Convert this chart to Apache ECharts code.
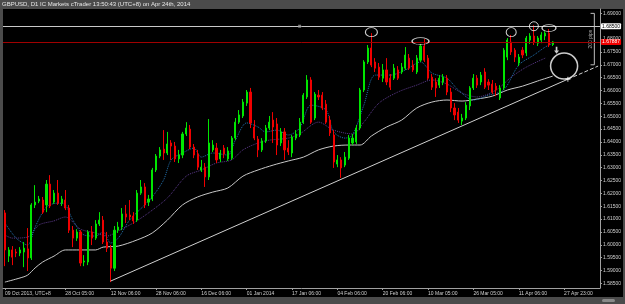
<!DOCTYPE html>
<html><head><meta charset="utf-8">
<script src="https://cdn.jsdelivr.net/npm/echarts@6/dist/echarts.min.js"></script>
<style>html,body{margin:0;padding:0;background:#4b4b4b;overflow:hidden;} #c{width:625px;height:304px;}</style>
</head><body><div id="c"></div>
<script>
const titleText = 'GBPUSD, D1 IC Markets cTrader 13:50:43 (UTC+8) on Apr 24th, 2014';
const slotCount = 158;
const opens = [1.6124,1.5956,1.5980,1.5972,1.5968,1.5972,1.5984,1.5949,1.6155,1.6170,1.6174,1.6155,1.6236,1.6166,1.6201,1.6162,1.6174,1.6143,1.6057,1.6026,1.6050,1.5933,1.5933,1.6050,1.6026,1.6081,1.6096,1.6011,1.5987,1.5909,1.6057,1.6069,1.6120,1.6116,1.6112,1.6096,1.6201,1.6225,1.6166,1.6178,1.6291,1.6345,1.6372,1.6357,1.6396,1.6384,1.6334,1.6349,1.6431,1.6450,1.6380,1.6353,1.6291,1.6302,1.6264,1.6369,1.6376,1.6334,1.6376,1.6334,1.6337,1.6415,1.6477,1.6501,1.6551,1.6594,1.6458,1.6411,1.6369,1.6404,1.6454,1.6485,1.6470,1.6396,1.6439,1.6376,1.6357,1.6415,1.6427,1.6477,1.6575,1.6641,1.6493,1.6582,1.6582,1.6547,1.6485,1.6427,1.6314,1.6330,1.6310,1.6337,1.6396,1.6400,1.6454,1.6602,1.6711,1.6765,1.6711,1.6691,1.6648,1.6680,1.6648,1.6648,1.6680,1.6672,1.6687,1.6726,1.6699,1.6672,1.6718,1.6773,1.6726,1.6652,1.6633,1.6621,1.6633,1.6648,1.6594,1.6532,1.6516,1.6481,1.6493,1.6540,1.6610,1.6648,1.6633,1.6672,1.6633,1.6625,1.6617,1.6571,1.6610,1.6730,1.6788,1.6757,1.6707,1.6757,1.6746,1.6796,1.6812,1.6784,1.6796,1.6812,1.6823,1.6779];
const closes = [1.5980,1.5980,1.5952,1.5968,1.5980,1.5987,1.5949,1.6155,1.6166,1.6178,1.6127,1.6236,1.6151,1.6201,1.6162,1.6178,1.6143,1.6057,1.6026,1.6050,1.5929,1.5937,1.6050,1.6026,1.6081,1.6096,1.6011,1.5987,1.5909,1.6057,1.6069,1.6120,1.6108,1.6108,1.6093,1.6201,1.6225,1.6155,1.6178,1.6291,1.6345,1.6369,1.6357,1.6392,1.6384,1.6334,1.6349,1.6431,1.6454,1.6380,1.6349,1.6302,1.6302,1.6264,1.6396,1.6388,1.6330,1.6357,1.6353,1.6365,1.6415,1.6477,1.6505,1.6555,1.6594,1.6474,1.6415,1.6369,1.6404,1.6454,1.6477,1.6458,1.6388,1.6439,1.6369,1.6361,1.6419,1.6431,1.6477,1.6582,1.6641,1.6477,1.6586,1.6575,1.6532,1.6477,1.6435,1.6322,1.6330,1.6299,1.6341,1.6415,1.6415,1.6454,1.6602,1.6711,1.6765,1.6699,1.6687,1.6652,1.6680,1.6633,1.6613,1.6687,1.6648,1.6691,1.6738,1.6687,1.6680,1.6726,1.6773,1.6718,1.6648,1.6613,1.6610,1.6648,1.6652,1.6594,1.6532,1.6505,1.6485,1.6493,1.6543,1.6610,1.6648,1.6621,1.6660,1.6613,1.6621,1.6594,1.6602,1.6610,1.6757,1.6796,1.6750,1.6730,1.6730,1.6738,1.6804,1.6812,1.6788,1.6804,1.6816,1.6823,1.6777,1.6789];
const highs = [1.6135,1.5991,1.5995,1.5984,1.5991,1.6011,1.6065,1.6162,1.6232,1.6190,1.6186,1.6252,1.6271,1.6213,1.6252,1.6190,1.6213,1.6155,1.6073,1.6061,1.6057,1.5960,1.6057,1.6073,1.6096,1.6127,1.6112,1.6050,1.5999,1.6073,1.6089,1.6143,1.6155,1.6174,1.6127,1.6213,1.6252,1.6240,1.6194,1.6299,1.6353,1.6380,1.6446,1.6439,1.6407,1.6400,1.6369,1.6439,1.6477,1.6466,1.6392,1.6369,1.6330,1.6318,1.6489,1.6407,1.6396,1.6369,1.6388,1.6380,1.6423,1.6493,1.6524,1.6567,1.6602,1.6610,1.6485,1.6423,1.6415,1.6466,1.6501,1.6516,1.6493,1.6454,1.6454,1.6407,1.6427,1.6446,1.6493,1.6590,1.6660,1.6652,1.6594,1.6602,1.6594,1.6563,1.6501,1.6446,1.6349,1.6341,1.6361,1.6427,1.6431,1.6466,1.6610,1.6718,1.6777,1.6823,1.6726,1.6707,1.6703,1.6726,1.6664,1.6703,1.6695,1.6707,1.6769,1.6742,1.6718,1.6738,1.6781,1.6800,1.6738,1.6664,1.6648,1.6660,1.6664,1.6660,1.6610,1.6551,1.6532,1.6509,1.6555,1.6617,1.6664,1.6660,1.6672,1.6687,1.6644,1.6641,1.6629,1.6621,1.6765,1.6804,1.6816,1.6765,1.6742,1.6769,1.6812,1.6823,1.6854,1.6812,1.6827,1.6831,1.6839,1.6792];
const lows = [1.5917,1.5933,1.5921,1.5952,1.5956,1.5913,1.5898,1.5941,1.6143,1.6162,1.6120,1.6127,1.6143,1.6159,1.6155,1.6151,1.6135,1.6046,1.5991,1.6015,1.5917,1.5917,1.5921,1.5999,1.6019,1.6073,1.6003,1.5972,1.5855,1.5898,1.6046,1.6057,1.6085,1.6096,1.6081,1.6089,1.6194,1.6143,1.6151,1.6170,1.6283,1.6337,1.6330,1.6349,1.6330,1.6322,1.6318,1.6337,1.6423,1.6372,1.6337,1.6291,1.6283,1.6225,1.6252,1.6361,1.6318,1.6322,1.6337,1.6326,1.6330,1.6407,1.6470,1.6493,1.6540,1.6454,1.6407,1.6341,1.6361,1.6396,1.6446,1.6396,1.6349,1.6384,1.6330,1.6349,1.6341,1.6407,1.6419,1.6470,1.6567,1.6470,1.6485,1.6563,1.6524,1.6470,1.6423,1.6299,1.6302,1.6260,1.6302,1.6330,1.6388,1.6392,1.6446,1.6594,1.6703,1.6691,1.6672,1.6641,1.6633,1.6621,1.6602,1.6641,1.6641,1.6664,1.6680,1.6680,1.6672,1.6664,1.6711,1.6711,1.6641,1.6602,1.6575,1.6610,1.6621,1.6582,1.6516,1.6485,1.6474,1.6466,1.6485,1.6524,1.6602,1.6610,1.6621,1.6606,1.6602,1.6586,1.6578,1.6563,1.6602,1.6718,1.6738,1.6711,1.6695,1.6726,1.6734,1.6781,1.6777,1.6773,1.6784,1.6796,1.6769,1.6773];
const tickSlots = [0,16,28,40,52,64,76,88,100,112,124,136,148];
const tickLabels = ['09 Oct 2013, UTC+8','28 Oct 05:00','12 Nov 06:00','28 Nov 06:00','16 Dec 06:00','01 Jan 2014','17 Jan 06:00','04 Feb 06:00','20 Feb 06:00','10 Mar 05:00','26 Mar 05:00','11 Apr 06:00','27 Apr 23:00'];
const priceTicks = [1.585,1.590,1.595,1.600,1.605,1.610,1.615,1.620,1.625,1.630,1.635,1.640,1.645,1.650,1.655,1.660,1.665,1.670,1.675,1.680,1.685,1.690];
const slowMA = [[0,1.5855],[4,1.5871],[6,1.5882],[8,1.5910],[10,1.5933],[13,1.5956],[16,1.5980],[20,1.5980],[24,1.5980],[26,1.5991],[30,1.5995],[35,1.6019],[39,1.6046],[43,1.6096],[47,1.6155],[51,1.6186],[55,1.6205],[59,1.6221],[63,1.6267],[67,1.6291],[71,1.6310],[75,1.6326],[79,1.6341],[83,1.6369],[87,1.6384],[91,1.6388],[94,1.6388],[97,1.6423],[101,1.6458],[105,1.6485],[109,1.6532],[113,1.6555],[117,1.6563],[121,1.6559],[125,1.6567],[129,1.6578],[133,1.6602],[137,1.6617],[141,1.6637],[145,1.6656]];
const fastMA = [[0,1.6085],[3,1.6026],[6,1.5999],[8,1.6069],[11,1.6147],[14,1.6162],[16,1.6155],[18,1.6096],[21,1.6038],[24,1.6034],[26,1.6050],[28,1.6007],[30,1.6026],[33,1.6096],[37,1.6155],[39,1.6186],[42,1.6252],[44,1.6330],[47,1.6357],[50,1.6376],[52,1.6341],[55,1.6357],[59,1.6349],[61,1.6407],[64,1.6474],[67,1.6458],[69,1.6439],[72,1.6446],[75,1.6427],[78,1.6454],[81,1.6543],[85,1.6524],[87,1.6439],[90,1.6415],[92,1.6427],[95,1.6543],[98,1.6660],[102,1.6660],[106,1.6680],[110,1.6711],[113,1.6668],[117,1.6648],[120,1.6602],[124,1.6563],[128,1.6582],[132,1.6602],[136,1.6699],[140,1.6738],[143,1.6769],[145,1.6784]];
const midMA = [[0,1.6038],[2,1.6026],[6,1.6030],[9,1.6077],[13,1.6093],[16,1.6108],[20,1.6061],[24,1.6046],[27,1.6034],[30,1.6054],[34,1.6085],[38,1.6124],[43,1.6182],[48,1.6267],[52,1.6291],[56,1.6318],[60,1.6330],[63,1.6369],[67,1.6396],[70,1.6407],[75,1.6415],[78,1.6431],[83,1.6477],[87,1.6446],[92,1.6431],[95,1.6477],[99,1.6551],[104,1.6594],[109,1.6621],[113,1.6641],[117,1.6625],[121,1.6590],[125,1.6575],[130,1.6602],[134,1.6652],[138,1.6691],[143,1.6726]];
const trendSolid = [[28,1.5859],[149,1.6644]];
const trendDashed = [[149,1.6644],[157,1.6695]];
const resistanceLevel = 1.685;
const lastPrice = 1.67887;
const rangeBracket = [[155,1.690],[156,1.690],[156,1.670],[155,1.670]];
const rangeText = '200 pips';
const highlightPoints = [[97,1.6827],[110,1.6792],[134,1.6827],[140,1.6850],[144,1.6843]];
const targetPoint = [[148,1.6695]];
const arrowPoint = [[146,1.6757]];
const crossPoint = [[149,1.6644]];
const levelHandle = [[78,1.685]];

const ellipseSizes = [[12,9],[17,7],[10,9],[9,9],[14,7]];
const categories = Array.from({length: slotCount}, (_, i) => String(i));
const candleData = opens.map((o, i) => [o, closes[i], lows[i], highs[i]]);
const showTick = (idx) => tickSlots.indexOf(idx) >= 0;
const FONT = 'Liberation Sans';

const chart = echarts.init(document.getElementById('c'), null, {renderer: 'canvas'});
chart.setOption({
  animation: false,
  backgroundColor: '#4b4b4b',
  textStyle: {fontFamily: FONT},
  graphic: [
    {type: 'rect', z: -10, shape: {x: 3, y: 9, width: 620, height: 288}, style: {fill: '#000'}},
    {type: 'rect', z: -5, shape: {x: 602, y: 299, width: 13, height: 3, r: 1.5}, style: {fill: '#8a8a8a'}},
    {type: 'text', left: 2, top: 1, style: {text: titleText, fill: '#e6e6e6', font: '6px "Liberation Sans"'}}
  ],
  grid: {left: 3, right: 25, top: 9, bottom: 16},
  xAxis: {
    type: 'category', data: categories, boundaryGap: true,
    axisLine: {lineStyle: {color: '#a0a0a0', width: 1}},
    axisTick: {show: true, alignWithLabel: true, interval: showTick, length: 2, lineStyle: {color: '#a0a0a0'}},
    axisLabel: {interval: showTick, formatter: (v, idx) => tickLabels[tickSlots.indexOf(idx)] || '', align: 'left', color: '#cfcfcf', fontSize: 5, margin: 3, fontFamily: FONT},
    splitLine: {show: false}
  },
  yAxis: {
    type: 'value', position: 'right', min: 1.5832, max: 1.6917, scale: true,
    axisLine: {show: true, lineStyle: {color: '#a0a0a0', width: 1}},
    axisTick: {show: true, customValues: priceTicks, length: 2, lineStyle: {color: '#a0a0a0'}},
    axisLabel: {customValues: priceTicks, formatter: (v) => v.toFixed(5), color: '#cfcfcf', fontSize: 5, margin: 3, fontFamily: FONT},
    splitLine: {show: false}
  },
  series: [
    {type: 'line', data: slowMA, smooth: 0.3, symbol: 'none', z: 1, lineStyle: {color: '#c8c8c8', width: 1}},
    {type: 'line', data: midMA, smooth: 0.3, symbol: 'none', z: 1, lineStyle: {color: '#5c3a8c', width: 1, type: 'dotted'}},
    {type: 'line', data: fastMA, smooth: 0.3, symbol: 'none', z: 1, lineStyle: {color: '#2270ad', width: 1, type: 'dotted'}},
    {
      type: 'candlestick', data: candleData, barWidth: 1.6, z: 2,
      itemStyle: {color: '#00e600', color0: '#f00000', borderColor: '#00e600', borderColor0: '#f00000', borderWidth: 1},
      markLine: {
        silent: true, symbol: ['none', 'none'], animation: false, precision: 5,
        data: [
          {yAxis: resistanceLevel, lineStyle: {color: '#c8c8c8', width: 1, type: 'solid'},
           label: {show: true, position: 'end', distance: 1, formatter: (p) => Number(p.value).toFixed(5), color: '#000', backgroundColor: '#fff', fontSize: 5, padding: [1, 1, 0, 1], borderRadius: 1, fontFamily: FONT}},
          {yAxis: lastPrice, lineStyle: {color: '#a00000', width: 1, type: 'solid'},
           label: {show: true, position: 'end', distance: 1, formatter: (p) => Number(p.value).toFixed(5), color: '#fff', backgroundColor: '#f00000', fontSize: 5, padding: [1, 1, 0, 1], borderRadius: 1, fontFamily: FONT}}
        ]
      }
    },
    {type: 'line', data: trendSolid, symbol: 'none', z: 3, lineStyle: {color: '#d0d0d0', width: 1}},
    {type: 'line', data: trendDashed, symbol: 'none', z: 3, lineStyle: {color: '#d0d0d0', width: 1, type: 'dashed'}},
    {type: 'line', data: rangeBracket, symbol: 'none', z: 3, lineStyle: {color: '#bdbdbd', width: 1}},
    {type: 'scatter', data: [[155, 1.680]], symbolSize: 0, z: 4,
     label: {show: true, formatter: rangeText, rotate: 90, color: '#cfcfcf', fontSize: 5, position: 'inside', fontFamily: FONT}},
    {type: 'scatter', data: highlightPoints, symbol: 'circle', z: 5,
     symbolSize: (v, p) => ellipseSizes[p.dataIndex],
     itemStyle: {color: 'rgba(0,0,0,0)', borderColor: '#ffffff', borderWidth: 1}},
    {type: 'scatter', data: targetPoint, symbol: 'circle', symbolSize: [27, 26], z: 5,
     itemStyle: {color: 'rgba(0,0,0,0)', borderColor: '#ffffff', borderWidth: 1.5}},
    {type: 'scatter', data: arrowPoint, symbol: 'path://M2,0h2v5h2l-3,4l-3,-4h2z', symbolSize: [5, 7], z: 5,
     itemStyle: {color: '#ffffff'}},
    {type: 'scatter', data: crossPoint, symbol: 'path://M2,0h1v2h2v1h-2v2h-1v-2h-2v-1h2z', symbolSize: 5, z: 5,
     itemStyle: {color: '#ffffff'}},
    {type: 'scatter', data: levelHandle, symbol: 'rect', symbolSize: 3, z: 5,
     itemStyle: {color: '#9a9a9a'}}
  ]
});
</script>
</body></html>
